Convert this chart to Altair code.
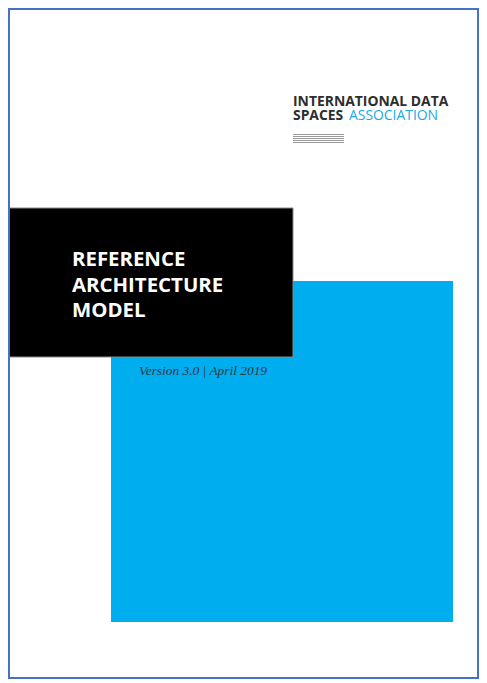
import altair as alt
import pandas as pd

panel_names = ["blue_panel", "black_panel"]
panel_x0 = [111, 5]
panel_x1 = [453, 293]
panel_y0 = [281, 208]
panel_y1 = [622, 357]

frame_x0 = [9]
frame_x1 = [478]
frame_y0 = [9]
frame_y1 = [678]

logo_line1 = ["INTERNATIONAL DATA"]
logo_line2a = ["SPACES"]
logo_line2b = ["ASSOCIATION"]
logo_x = [293, 293, 349]
logo_y = [105.5, 119.5, 119.5]

rule_y = [134.5, 136.5, 138.5, 140.5, 142.5]
rule_x0 = [293]
rule_x1 = [344]

title_lines = ["REFERENCE", "ARCHITECTURE", "MODEL"]
title_x = [72]
title_y = [266, 291.5, 317]

version_text = ["Version 3.0 | April 2019"]
version_x = [139]
version_y = [375]

# ---- scales (page pixels -> plot pixels; plot starts at page 9,9) ----
W, H = 469, 669
XS = alt.Scale(domain=[9, 9 + W], nice=False, zero=False)
YS = alt.Scale(domain=[9, 9 + H], nice=False, zero=False, reverse=True)


def X(f):
    return alt.X(f, type="quantitative", scale=XS, axis=None)


def Y(f):
    return alt.Y(f, type="quantitative", scale=YS, axis=None)


panels = pd.DataFrame({"name": panel_names, "x0": panel_x0, "x1": panel_x1,
                       "y0": panel_y0, "y1": panel_y1})

blue = alt.Chart(panels[panels.name == "blue_panel"]).mark_rect(color="#00adef").encode(
    x=X("x0"), x2=alt.X2("x1"), y=Y("y0"), y2=alt.Y2("y1"))
black = alt.Chart(panels[panels.name == "black_panel"]).mark_rect(
    color="#000000", stroke="#8a8a8a", strokeWidth=1).encode(
    x=X("x0"), x2=alt.X2("x1"), y=Y("y0"), y2=alt.Y2("y1"))

frame = alt.Chart(pd.DataFrame({"x0": frame_x0, "x1": frame_x1, "y0": frame_y0, "y1": frame_y1})).mark_rect(
    fillOpacity=0, stroke="#4472c4", strokeWidth=2).encode(
    x=X("x0"), x2=alt.X2("x1"), y=Y("y0"), y2=alt.Y2("y1"))

logo_df1 = pd.DataFrame({"t": logo_line1 + logo_line2a, "x": logo_x[:2], "y": logo_y[:2]})
logo_dark = alt.Chart(logo_df1).mark_text(
    align="left", baseline="alphabetic", font="Open Sans", fontWeight="bold",
    fontSize=13.9, color="#2d2d2d").encode(x=X("x"), y=Y("y"), text="t:N")
logo_df2 = pd.DataFrame({"t": logo_line2b, "x": logo_x[2:], "y": logo_y[2:]})
logo_blue = alt.Chart(logo_df2).mark_text(
    align="left", baseline="alphabetic", font="Open Sans", fontWeight="normal",
    fontSize=13.9, color="#22a8e6").encode(x=X("x"), y=Y("y"), text="t:N")

rules_df = pd.DataFrame({"y": rule_y, "x0": rule_x0 * len(rule_y), "x1": rule_x1 * len(rule_y)})
rules = alt.Chart(rules_df).mark_rule(color="#9a9a9a", strokeWidth=1).encode(
    x=X("x0"), x2=alt.X2("x1"), y=Y("y"))

title_df = pd.DataFrame({"t": title_lines, "x": title_x * 3, "y": title_y})
title = alt.Chart(title_df).mark_text(
    align="left", baseline="alphabetic", font="Open Sans", fontWeight="bold",
    fontSize=20.4, color="#ffffff").encode(x=X("x"), y=Y("y"), text="t:N")

ver_df = pd.DataFrame({"t": version_text, "x": version_x, "y": version_y})
version = alt.Chart(ver_df).mark_text(
    align="left", baseline="alphabetic", font="Liberation Serif", fontStyle="italic",
    fontSize=13.4, color="#2f3640").encode(x=X("x"), y=Y("y"), text="t:N")

chart = alt.layer(blue, black, frame, logo_dark, logo_blue, rules, title, version).properties(
    width=W, height=H,
    padding={"left": 1, "top": 1, "right": 1, "bottom": 1},
    autosize=alt.AutoSizeParams(type="none"),
    background="#ffffff",
).configure_view(strokeWidth=0)

chart.save("out.html", embed_options={"renderer": "svg", "actions": False})
